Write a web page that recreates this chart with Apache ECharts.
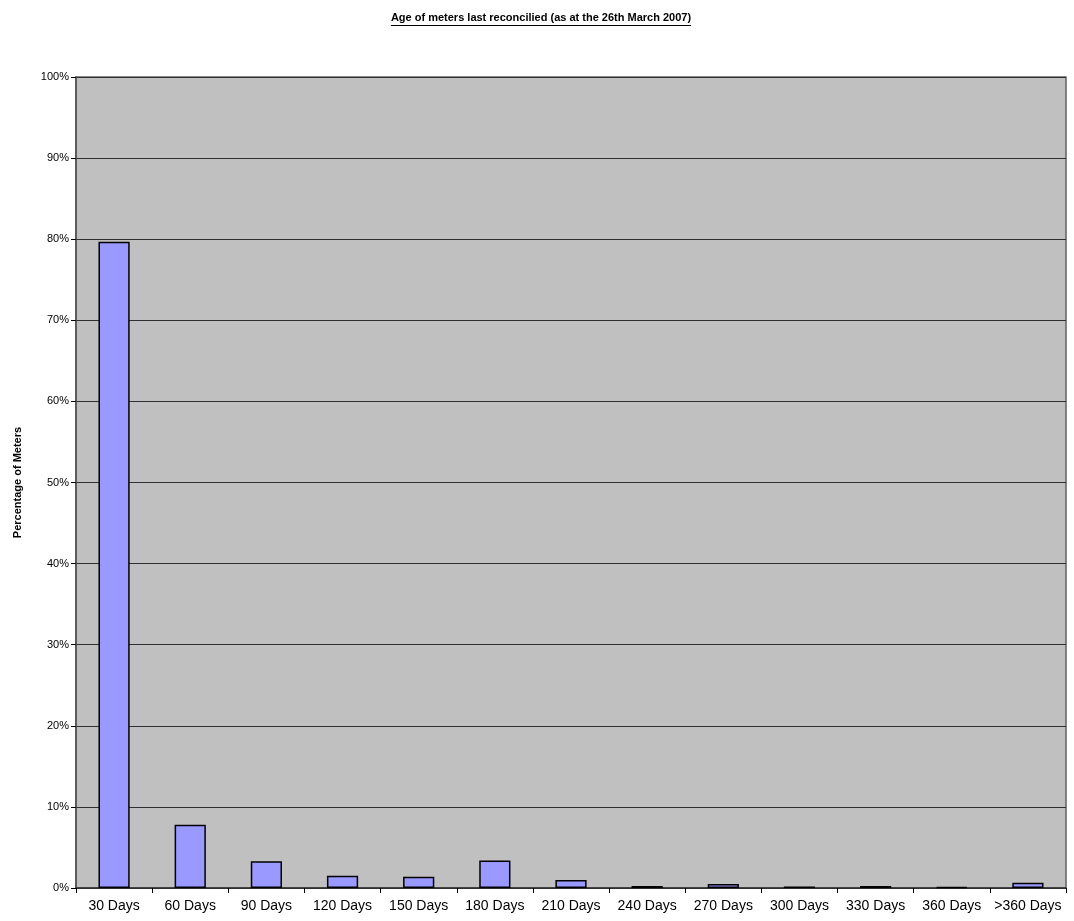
<!DOCTYPE html>
<html>
<head>
<meta charset="utf-8">
<script src="https://cdn.jsdelivr.net/npm/echarts@6/dist/echarts.min.js"></script>
<style>
html,body{margin:0;padding:0;background:#fff;}
#chart{width:1074px;height:921px;}
</style>
</head>
<body>
<div id="chart"></div>
<script>
const titleText = 'Age of meters last reconcilied (as at the 26th March 2007)';
const categories = ['30 Days','60 Days','90 Days','120 Days','150 Days','180 Days','210 Days','240 Days','270 Days','300 Days','330 Days','360 Days','>360 Days'];
const percentValues = [79.7, 7.8, 3.3, 1.5, 1.4, 3.4, 1.0, 0.25, 0.5, 0.2, 0.25, 0.12, 0.66];
const yAxisName = 'Percentage of Meters';

const titleFont = 'bold 11px "Liberation Sans", Arial, sans-serif';
const cv = document.createElement('canvas').getContext('2d');
cv.font = titleFont;
const tw = cv.measureText(titleText).width;
const cx = 541;

const chart = echarts.init(document.getElementById('chart'), null, {renderer:'canvas'});
chart.setOption({
  backgroundColor: '#ffffff',
  animation: false,
  textStyle: {fontFamily: '"Liberation Sans", Arial, sans-serif'},
  graphic: [
    {type:'text', left: cx - tw/2, top: 12, style:{text: titleText, font: titleFont, fill:'#000'}},
    {type:'line', shape:{x1: cx - tw/2, y1: 25.5, x2: cx + tw/2, y2: 25.5}, style:{stroke:'#000', lineWidth:1}}
  ],
  grid: {left: 76, right: 8, top: 77, bottom: 33, show: true, backgroundColor: '#C0C0C0', borderColor: '#606060', borderWidth: 1.5},
  xAxis: {
    type: 'category',
    data: categories,
    boundaryGap: true,
    axisLine: {show: true, lineStyle: {color: '#303030', width: 1.5}},
    axisTick: {show: true, alignWithLabel: false, length: 5, lineStyle: {color: '#000'}},
    axisLabel: {interval: 0, color: '#000', fontSize: 14, margin: 11}
  },
  yAxis: {
    type: 'value',
    min: 0, max: 100, interval: 10,
    name: yAxisName,
    nameLocation: 'middle',
    nameGap: 53,
    nameTextStyle: {fontSize: 11, fontWeight: 'bold', color: '#000'},
    axisLine: {show: true, lineStyle: {color: '#505050', width: 1.5}},
    axisTick: {show: true, length: 5, lineStyle: {color: '#000'}},
    axisLabel: {formatter: '{value}%', color: '#000', fontSize: 11, margin: 7},
    splitLine: {show: true, lineStyle: {color: '#303030', width: 1}}
  },
  series: [{
    type: 'bar',
    data: percentValues,
    barWidth: '41%',
    itemStyle: {color: '#9999FF', borderColor: '#000', borderWidth: 1.5}
  }]
});
</script>
</body>
</html>
